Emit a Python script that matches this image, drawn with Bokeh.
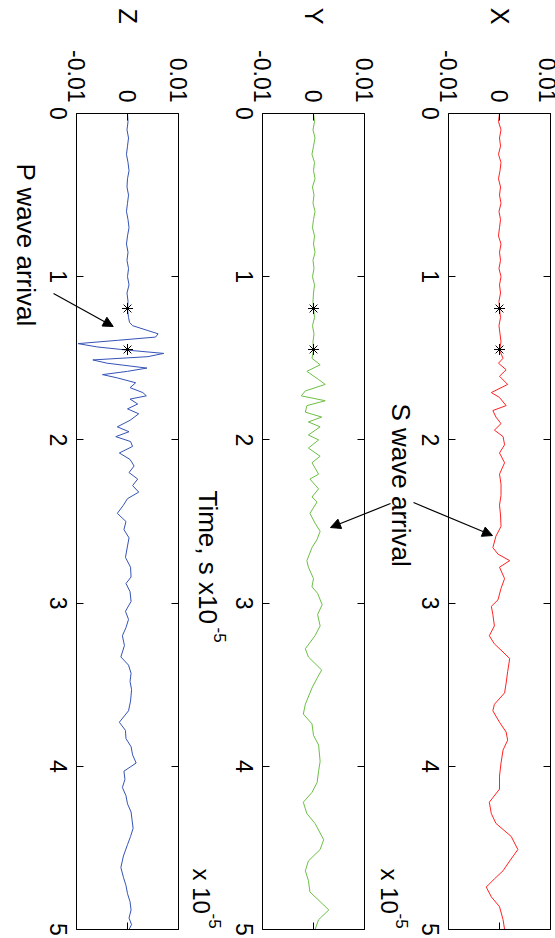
import math
import numpy as np
from bokeh.plotting import figure
from bokeh.models import (Range1d, FixedTicker, LinearAxis, Label, Arrow, Grid,
                          NormalHead, CustomJSTickFormatter)
from bokeh.embed import file_html
from bokeh.resources import INLINE

# ---------------- data (time in units of 1e-5 s, amplitude in units of 1e-4) -------------
t_z = [0.00, 0.05, 0.10, 0.15, 0.20, 0.25, 0.30, 0.35, 0.40, 0.45, 0.50, 0.55, 0.60, 0.65,
       0.70, 0.75, 0.80, 0.85, 0.90, 0.95, 1.00, 1.05, 1.10, 1.15, 1.20, 1.25,
       1.28, 1.30, 1.33, 1.35, 1.37, 1.39, 1.41, 1.43, 1.45,
       1.47, 1.49, 1.51, 1.53, 1.56, 1.58, 1.60, 1.62, 1.65, 1.68,
       1.71, 1.73, 1.75, 1.78, 1.81, 1.84, 1.88, 1.92, 1.95, 1.98,
       2.01, 2.04, 2.08, 2.12, 2.16, 2.20, 2.24, 2.28, 2.32, 2.36,
       2.40, 2.45, 2.50, 2.55, 2.60, 2.65, 2.72, 2.78, 2.84, 2.88,
       2.93, 2.99, 3.05, 3.10, 3.15, 3.20, 3.26, 3.33, 3.38, 3.43,
       3.48, 3.53, 3.60, 3.66, 3.73, 3.78, 3.83, 3.88, 3.93, 3.98,
       4.03, 4.08, 4.13, 4.18, 4.23, 4.28, 4.33, 4.38, 4.43, 4.48,
       4.55, 4.62, 4.68, 4.73, 4.78, 4.83, 4.88, 4.93, 4.97, 5.00]
z_amp = [0, 1, -1, 2, 0, -2, 1, 3, 0, -1, 2, 0, -2, 1, 3, 0, -2, 1, -1, 2, 0, 3, -1, 1, 0, 2,
         4, 10, 40, 60, 55, -20, -97, -60, 0,
         71, 40, -68, -40, 38, 0, -49, -20, 16, 5,
         30, 37, 5, 20, 0, 22, 5, -20, 3, -23,
         6, 10, -16, 5, 13, 3, 20, 10, 22, 0,
         -8, -20, -3, -7, 3, 0, -4, 6, 7, -3,
         5, 7, -4, 2, -3, -10, -6, -13, 2, 7,
         5, 8, 6, 2, -16, -4, -3, 7, 10, 17,
         -7, -5, -10, -3, 0, 7, 9, 11, 6, 0,
         -8, -13, -8, -3, 0, 5, 7, 3, 8, 3]

t_y = [0.00, 0.05, 0.10, 0.15, 0.20, 0.25, 0.30, 0.35, 0.40, 0.45, 0.50, 0.55, 0.60, 0.65,
       0.70, 0.75, 0.80, 0.85, 0.90, 0.95, 1.00, 1.05, 1.10, 1.15, 1.20, 1.25, 1.30, 1.35,
       1.40, 1.45,
       1.50, 1.54, 1.58, 1.63, 1.66, 1.70, 1.73, 1.76, 1.79, 1.83,
       1.86, 1.89, 1.92, 1.97, 2.00, 2.05, 2.10, 2.14, 2.21, 2.24,
       2.30, 2.35, 2.38, 2.45, 2.51, 2.56, 2.61, 2.66, 2.74, 2.78,
       2.85, 2.90, 2.94, 3.01, 3.07, 3.14, 3.20, 3.28, 3.33, 3.41,
       3.46, 3.52, 3.62, 3.68, 3.74, 3.81, 3.87, 3.97, 4.03, 4.10,
       4.16, 4.22, 4.29, 4.35, 4.45, 4.51, 4.58, 4.64, 4.70, 4.77,
       4.88, 4.94, 5.00]
y_amp = [0, 2, -1, 3, 0, -3, 2, 0, 3, -2, 1, -1, 3, 0, -2, 2, 0, 3, -1, 1, -2, 2, 0, -1, 0, 2,
         -2, 1, -1, 0,
         -3, 13, -13, 10, 23, -16, -24, 23, -13, -16,
         16, -10, 13, -10, 10, -10, 13, -3, 10, -7,
         10, -3, 7, -7, 3, 13, 7, -3, -13, -10,
         0, -3, 8, 17, 8, 13, 3, -16, -10, 16,
         7, -3, -16, -20, -3, 0, 10, 13, 10, 7,
         -3, -20, -13, 3, 20, 13, -10, -16, -10, -7,
         30, 10, 3]

t_x = [0.00, 0.05, 0.10, 0.15, 0.20, 0.25, 0.30, 0.35, 0.40, 0.45, 0.50, 0.55, 0.60, 0.65,
       0.70, 0.75, 0.80, 0.85, 0.90, 0.95, 1.00, 1.05, 1.10, 1.15, 1.20, 1.25, 1.30, 1.35,
       1.40, 1.45,
       1.50, 1.53, 1.57, 1.61, 1.66, 1.71, 1.74, 1.79, 1.82, 1.86,
       1.90, 1.94, 1.98, 2.03, 2.08, 2.14, 2.21, 2.27, 2.34, 2.40,
       2.46, 2.53, 2.59, 2.66, 2.70, 2.74, 2.78, 2.85, 2.91, 2.98,
       3.02, 3.07, 3.14, 3.20, 3.25, 3.30, 3.34, 3.42, 3.49, 3.55,
       3.62, 3.66, 3.73, 3.79, 3.84, 3.90, 3.98, 4.06, 4.14, 4.22,
       4.29, 4.35, 4.43, 4.51, 4.58, 4.64, 4.69, 4.74, 4.80, 4.86,
       4.94, 5.00]
x_amp = [0, -2, 3, 0, 2, -2, 3, 1, -2, 2, 0, 3, -1, 2, 0, -2, 3, 0, 2, -1, 3, 0, 2, -1, 0, 2,
         -1, 1, 3, 0,
         7, -2, 13, 0, 16, -16, 0, 13, -13, -7,
         3, -10, 7, 10, 0, 10, 0, 3, 3, 0,
         2, 3, -7, -13, -3, 20, 0, 10, 3, -3,
         -16, -13, -10, -20, -10, 7, 20, 16, 13, 10,
         -10, -13, 0, 13, 16, 7, 3, 0, 0, -20,
         -16, -7, 23, 36, 20, 7, -10, -26, -16, 0,
         7, 10]

AMP_UNIT = 1e-4
pick_times = [1.195, 1.446]
amp_ticks = [-0.01, 0.0, 0.01]
amp_tick_labels = ["-0.01", "0", "0.01"]
time_ticks = [0, 1, 2, 3, 4, 5]
time_tick_labels = ["0", "1", "2", "3", "4", "5"]
panel_names = ["Z", "Y", "X"]
panel_colors = ["#3553b5", "#6cbf45", "#ff2222"]

# ---------------- layout (pixels) -------------
W, H = 555, 938
PANEL_LEFT = [76, 262, 448]
PANEL_W = 102
PANEL_TOP = 113
PANEL_H = 816
TICK_FONT_PX = 23
FONT = "Liberation Sans"
ROT = -math.pi / 2

amp_per_px = (amp_ticks[-1] - amp_ticks[0]) / PANEL_W
t_per_px = (time_ticks[-1] - time_ticks[0]) / PANEL_H
y_top = time_ticks[0] - PANEL_TOP * t_per_px
y_bottom = time_ticks[-1] + (H - PANEL_TOP - PANEL_H) * t_per_px
# rotated time labels are end-anchored at the tick: shift them by half a digit to centre
label_shift = 0.556 * TICK_FONT_PX / 2 * t_per_px


def x_range_for(left):
    start = amp_ticks[0] - left * amp_per_px
    return Range1d(start, start + W * amp_per_px)


range_names = ["default", "ry", "rx"]
ranges = {n: x_range_for(l) for n, l in zip(range_names, PANEL_LEFT)}

p = figure(frame_width=W, frame_height=H, min_border=0,
           x_range=ranges["default"], y_range=Range1d(y_bottom, y_top),
           x_axis_location=None, y_axis_location=None,
           toolbar_location=None, output_backend="svg", title=None)
p.extra_x_ranges = {"ry": ranges["ry"], "rx": ranges["rx"]}
p.extra_y_ranges = {"tlab": Range1d(y_bottom - label_shift, y_top - label_shift)}
p.outline_line_color = None
p.background_fill_color = "white"
p.border_fill_color = "white"
for g in p.select(type=Grid):
    g.visible = False


def formatter(tick_values, tick_labels):
    return CustomJSTickFormatter(
        args=dict(tv=tick_values, tl=tick_labels),
        code="const i = tv.findIndex(v => Math.abs(v - tick) < 1e-9);"
             "return i >= 0 ? tl[i] : '';")


def add_axis(rname, side, loc, bounds, ticks, labels, show_labels, standoff,
             show_line=True, yname="default"):
    ax = LinearAxis(x_range_name=rname, y_range_name=yname, fixed_location=loc,
                    bounds=bounds,
                    ticker=FixedTicker(ticks=ticks, minor_ticks=[]),
                    formatter=formatter(ticks, labels))
    ax.axis_line_color = "black" if show_line else None
    ax.axis_line_width = 1
    ax.major_tick_in = 7
    ax.major_tick_out = 0
    ax.minor_tick_in = 0
    ax.minor_tick_out = 0
    ax.major_tick_line_color = "black" if show_line else None
    ax.major_tick_line_width = 1
    ax.major_label_orientation = ROT
    ax.major_label_text_font = FONT
    ax.major_label_text_color = "black"
    if show_labels:
        ax.major_label_text_font_size = f"{TICK_FONT_PX}px"
        ax.major_label_standoff = standoff
    else:
        ax.major_label_text_font_size = "0px"
        ax.major_label_standoff = 0
    p.add_layout(ax, side)


def text(rname, x, y, s, size, align="left"):
    p.add_layout(Label(x=x, y=y, x_range_name=rname, text=s, angle=ROT,
                       text_align=align, text_baseline="middle", text_font=FONT,
                       text_font_size=size, text_color="black"))


def arrow(rname, xs, ys, xe, ye):
    p.add_layout(Arrow(end=NormalHead(size=10, fill_color="black", line_color="black",
                                      line_width=1),
                       x_start=xs, y_start=ys, x_end=xe, y_end=ye, x_range_name=rname,
                       line_color="black", line_width=1.2))


amp_bounds = (amp_ticks[0], amp_ticks[-1])
time_bounds = (time_ticks[0], time_ticks[-1])
series = [(t_z, z_amp), (t_y, y_amp), (t_x, x_amp)]

for rname, name, color, (t, amp) in zip(range_names, panel_names, panel_colors, series):
    add_axis(rname, "above", time_ticks[0], amp_bounds, amp_ticks, amp_tick_labels, True, 11)
    add_axis(rname, "below", time_ticks[-1], amp_bounds, amp_ticks, amp_tick_labels, False, 0)
    add_axis(rname, "left", amp_ticks[0], time_bounds, time_ticks, time_tick_labels, False, 0)
    add_axis(rname, "left", amp_ticks[0], time_bounds, time_ticks, time_tick_labels, True, 18,
             show_line=False, yname="tlab")
    add_axis(rname, "right", amp_ticks[-1], time_bounds, time_ticks, time_tick_labels, False, 0)

    p.line(x=np.array(amp) * AMP_UNIT, y=t, x_range_name=rname,
           line_color=color, line_width=1)
    p.scatter(x=[0.0] * len(pick_times), y=pick_times, x_range_name=rname,
              marker="asterisk", size=11, line_color="black", line_width=1)
    text(rname, 0.0, -0.597, name, "25px", align="center")

# Z panel annotations
text("default", -0.0199, 0.306, "P wave arrival", "26px")
arrow("default", -0.0145, 1.103, -0.0028, 1.305)

# Y panel annotations
text("ry", -0.02078, 2.31, "Time, s x10", "26px")
text("ry", -0.01824, 3.15, "-5", "17px")
text("ry", -0.02196, 4.626, "x 10", "24px")
text("ry", -0.01941, 4.902, "-5", "17px")
arrow("ry", 0.0151, 2.39, 0.00333, 2.537)

# X panel annotations
text("rx", -0.01941, 1.777, "S wave arrival", "26px")
arrow("rx", -0.01686, 2.384, -0.00137, 2.586)
text("rx", -0.02157, 4.626, "x 10", "24px")
text("rx", -0.01902, 4.902, "-5", "17px")

open("out.html", "w").write(file_html(p, INLINE))
